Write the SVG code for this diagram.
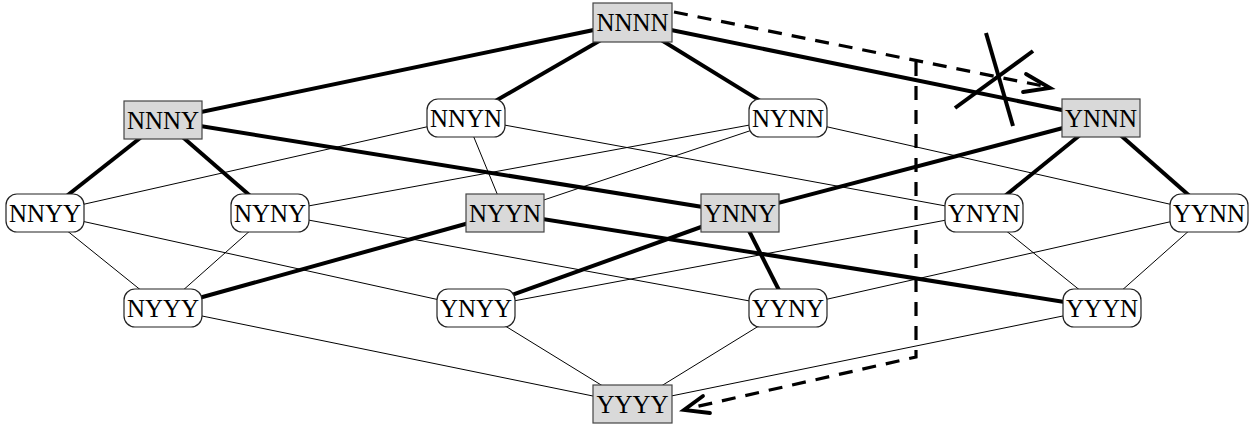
<svg xmlns="http://www.w3.org/2000/svg" width="1255" height="426" viewBox="0 0 1255 426">
<style>
.thin{stroke:#000;stroke-width:1;fill:none}
.thick{stroke:#000;stroke-width:4;fill:none}
.dash{stroke:#000;stroke-width:3.2;fill:none;stroke-dasharray:14 10}
.head{stroke:#000;stroke-width:3.8;fill:none;stroke-linecap:round;stroke-linejoin:miter}
.g rect{fill:#d9d9d9;stroke:#444;stroke-width:1.2}
.w rect{fill:#fff;stroke:#222;stroke-width:1.2}
text{font-family:"Liberation Serif","Times New Roman",serif;font-size:25px;text-anchor:middle;fill:#000}
</style>
<g id="connectors">
<line class="thin" x1="466" y1="118" x2="45" y2="213"/>
<line class="thin" x1="466" y1="118" x2="505" y2="213"/>
<line class="thin" x1="466" y1="118" x2="984" y2="213"/>
<line class="thin" x1="788" y1="118" x2="270" y2="213"/>
<line class="thin" x1="788" y1="118" x2="505" y2="213"/>
<line class="thin" x1="788" y1="118" x2="1209" y2="213"/>
<line class="thin" x1="45" y1="213" x2="163" y2="308"/>
<line class="thin" x1="45" y1="213" x2="476" y2="308"/>
<line class="thin" x1="270" y1="213" x2="163" y2="308"/>
<line class="thin" x1="270" y1="213" x2="788" y2="308"/>
<line class="thin" x1="984" y1="213" x2="476" y2="308"/>
<line class="thin" x1="984" y1="213" x2="1102" y2="308"/>
<line class="thin" x1="1209" y1="213" x2="788" y2="308"/>
<line class="thin" x1="1209" y1="213" x2="1102" y2="308"/>
<line class="thin" x1="163" y1="308" x2="632" y2="404"/>
<line class="thin" x1="476" y1="308" x2="632" y2="404"/>
<line class="thin" x1="788" y1="308" x2="632" y2="404"/>
<line class="thin" x1="1102" y1="308" x2="632" y2="404"/>
<line class="thick" x1="632" y1="22" x2="163" y2="120"/>
<line class="thick" x1="632" y1="22" x2="466" y2="118"/>
<line class="thick" x1="632" y1="22" x2="788" y2="118"/>
<line class="thick" x1="632" y1="22" x2="1101" y2="118"/>
<line class="thick" x1="163" y1="120" x2="45" y2="213"/>
<line class="thick" x1="163" y1="120" x2="270" y2="213"/>
<line class="thick" x1="163" y1="120" x2="740" y2="213"/>
<line class="thick" x1="1101" y1="118" x2="740" y2="213"/>
<line class="thick" x1="1101" y1="118" x2="984" y2="213"/>
<line class="thick" x1="1101" y1="118" x2="1209" y2="213"/>
<line class="thick" x1="505" y1="213" x2="163" y2="308"/>
<line class="thick" x1="505" y1="213" x2="1102" y2="308"/>
<line class="thick" x1="740" y1="213" x2="476" y2="308"/>
<line class="thick" x1="740" y1="213" x2="788" y2="308"/>
<path class="dash" d="M674 12 L1048 87"/>
<path class="head" d="M1026 74 L1050 88 L1023 92"/>
<path class="dash" d="M916 62 L916 357 L686 409"/>
<path class="head" d="M703 396 L684 410 L710 413"/>
<line class="thick" x1="986" y1="33" x2="1013" y2="126"/>
<line class="thick" x1="955" y1="108" x2="1033" y2="51"/>
</g>
<g id="NNNN" class="g"><rect x="593" y="3" width="79" height="39"/><text x="632.5" y="31">NNNN</text></g>
<g id="NNNY" class="g"><rect x="124" y="101" width="78" height="38"/><text x="163" y="128.5">NNNY</text></g>
<g id="NNYN" class="w"><rect x="427" y="99" width="78" height="38" rx="11"/><text x="466" y="126.5">NNYN</text></g>
<g id="NYNN" class="w"><rect x="749" y="99" width="78" height="38" rx="11"/><text x="788" y="126.5">NYNN</text></g>
<g id="YNNN" class="g"><rect x="1062" y="99" width="78" height="38"/><text x="1101" y="126.5">YNNN</text></g>
<g id="NNYY" class="w"><rect x="6" y="194" width="78" height="38" rx="11"/><text x="45" y="221.5">NNYY</text></g>
<g id="NYNY" class="w"><rect x="231" y="194" width="78" height="38" rx="11"/><text x="270" y="221.5">NYNY</text></g>
<g id="NYYN" class="g"><rect x="466" y="194" width="78" height="38"/><text x="505" y="221.5">NYYN</text></g>
<g id="YNNY" class="g"><rect x="701" y="194" width="78" height="38"/><text x="740" y="221.5">YNNY</text></g>
<g id="YNYN" class="w"><rect x="945" y="194" width="78" height="38" rx="11"/><text x="984" y="221.5">YNYN</text></g>
<g id="YYNN" class="w"><rect x="1170" y="194" width="78" height="38" rx="11"/><text x="1209" y="221.5">YYNN</text></g>
<g id="NYYY" class="w"><rect x="124" y="289" width="78" height="38" rx="11"/><text x="163" y="316.5">NYYY</text></g>
<g id="YNYY" class="w"><rect x="437" y="289" width="78" height="38" rx="11"/><text x="476" y="316.5">YNYY</text></g>
<g id="YYNY" class="w"><rect x="749" y="289" width="78" height="38" rx="11"/><text x="788" y="316.5">YYNY</text></g>
<g id="YYYN" class="w"><rect x="1063" y="289" width="78" height="38" rx="11"/><text x="1102" y="316.5">YYYN</text></g>
<g id="YYYY" class="g"><rect x="593" y="385" width="79" height="38"/><text x="632.5" y="413">YYYY</text></g>
</svg>
